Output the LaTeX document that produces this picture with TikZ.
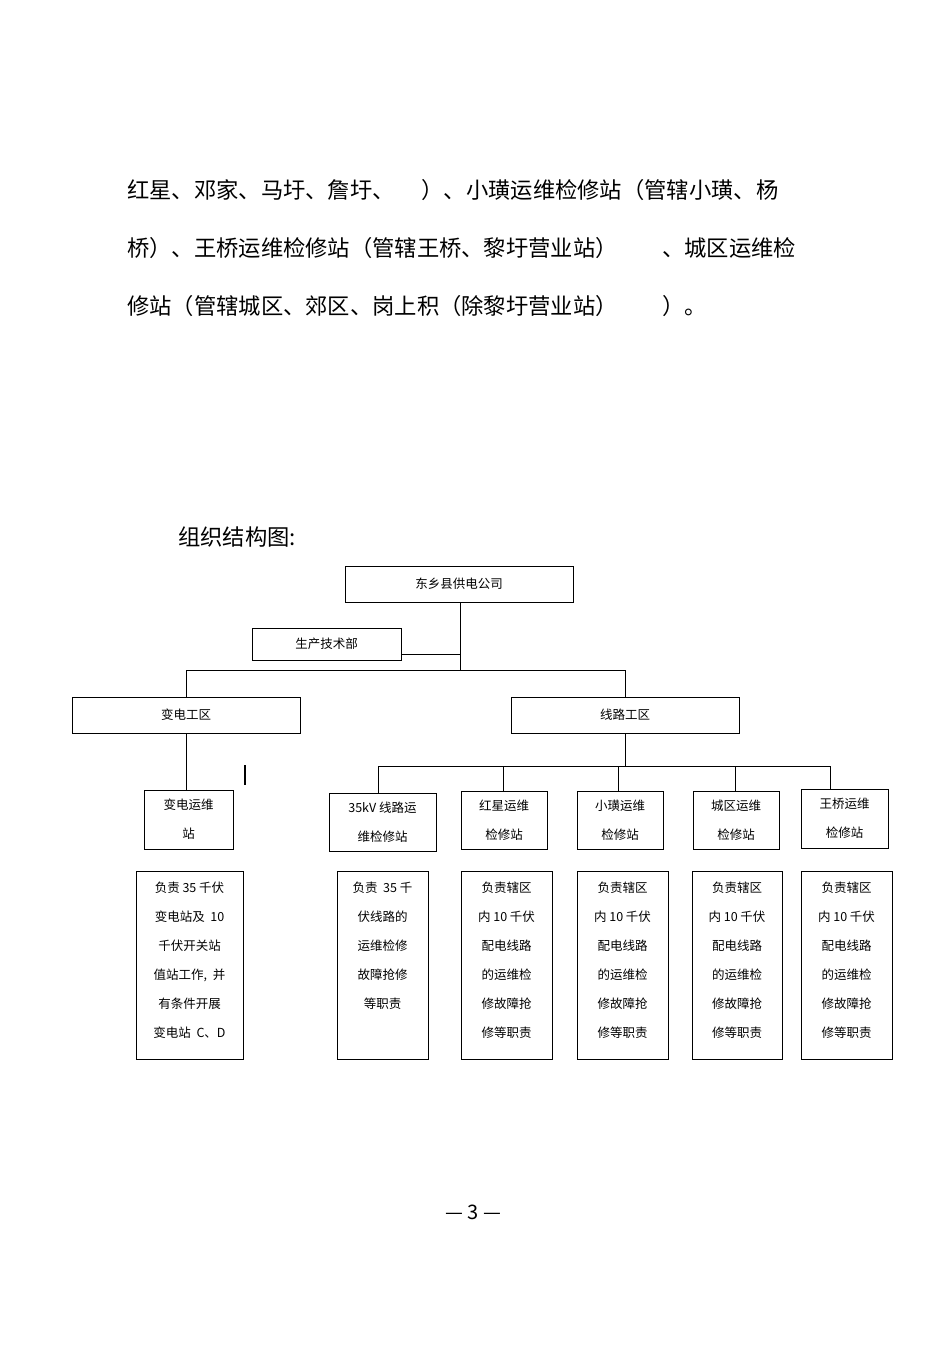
\documentclass[tikz,border=0pt]{standalone}
\usepackage{fontspec}
\setmainfont{Noto Sans CJK SC}
\begin{document}
\begin{tikzpicture}[x=1pt,y=-1pt,
  bx/.style={draw,line width=0.8pt,inner sep=0pt,font=\fontsize{12.5}{14}\selectfont},
  ln/.style={line width=0.8pt},
  para/.style={anchor=west,inner sep=0pt,font=\fontsize{22.3}{24}\selectfont},
  dbox/.style={draw,line width=0.8pt,inner sep=0pt,anchor=north,minimum height=188},
  dtx/.style={inner sep=0pt,align=center,anchor=north,font=\fontsize{12.5}{29}\selectfont}]
\useasboundingbox (0,0) rectangle (950,1345);
\node[para] (p1) at (127,190) {红星、邓家、马圩、詹圩、\hspace{1.2em}）、小璜运维检修站（管辖小璜、杨};
\node[para] (p2) at (127,248) {桥）、王桥运维检修站（管辖王桥、黎圩营业站）\hspace{2em}、城区运维检};
\node[para] (p3) at (127,306) {修站（管辖城区、郊区、岗上积（除黎圩营业站）\hspace{2em}）。};
\node[para] (title) at (178,537) {组织结构图:};
\node[bx,minimum width=228,minimum height=36] (top) at (459,584) {东乡县供电公司};
\node[bx,minimum width=149,minimum height=32] (sc) at (326.5,644) {生产技术部};
\node[bx,minimum width=228,minimum height=36] (bd) at (186,715) {变电工区};
\node[bx,minimum width=228,minimum height=36] (xl) at (625,715) {线路工区};
\coordinate (j1) at (460,654);
\coordinate (j2) at (460,670);
\coordinate (l1) at (186,670);
\coordinate (r1) at (625,670);
\draw[ln] (460,602) -- (j2);
\draw[ln] (sc.east |- j1) -- (j1);
\draw[ln] (l1) -- (r1);
\draw[ln] (l1) -- (bd.north);
\draw[ln] (r1) -- (xl.north);
\node[bx,minimum width=89,minimum height=59,align=center,font=\fontsize{12.5}{29}\selectfont] (bs) at (188.5,819.5) {变电运维\\站};
\draw[ln] (186,733) -- (186,790);
\draw[line width=1.2pt] (245,765) -- (245,785);
\coordinate (h) at (625,766);
\draw[ln] (xl.south) -- (h);
\draw[ln] (378,766) -- (830,766);
\node[bx,minimum width=107,minimum height=58,align=center,font=\fontsize{12.5}{29}\selectfont] (s1) at (382.5,822) {35kV 线路运\\维检修站};
\node[bx,minimum width=86,minimum height=58,align=center,font=\fontsize{12.5}{29}\selectfont] (s2) at (504,820) {红星运维\\检修站};
\node[bx,minimum width=86,minimum height=58,align=center,font=\fontsize{12.5}{29}\selectfont] (s3) at (620,820) {小璜运维\\检修站};
\node[bx,minimum width=86,minimum height=58,align=center,font=\fontsize{12.5}{29}\selectfont] (s4) at (736,820) {城区运维\\检修站};
\node[bx,minimum width=87,minimum height=59,align=center,font=\fontsize{12.5}{29}\selectfont] (s5) at (844.5,818.5) {王桥运维\\检修站};
\foreach \n/\x in {s1/378,s2/503,s3/618,s4/735,s5/830}{\draw[ln] (\x,766) -- (\x,0 |- \n.north);}
\node[dbox,minimum width=107] (bdd) at (189.5,871) {};
\node[dtx] at (189.5,882) {负责 35 千伏\\变电站及 \ 10\\千伏开关站\\值站工作, \ 并\\有条件开展\\变电站 \ C、D};
\node[dbox,minimum width=91] (d1) at (382.5,871) {};
\node[dtx] at (382.5,882) {负责 \ 35 千\\伏线路的\\运维检修\\故障抢修\\等职责};
\foreach \n/\x/\w in {d2/506.5/91,d3/622.5/91,d4/737/90,d5/846.5/91}{
  \node[dbox,minimum width=\w] (\n) at (\x,871) {};
  \node[dtx] at (\x,882) {负责辖区\\内 10 千伏\\配电线路\\的运维检\\修故障抢\\修等职责};}
\node[inner sep=0pt,font=\fontsize{20}{24}\selectfont] (pg) at (473,1212) {— 3 —};
\end{tikzpicture}
\end{document}
